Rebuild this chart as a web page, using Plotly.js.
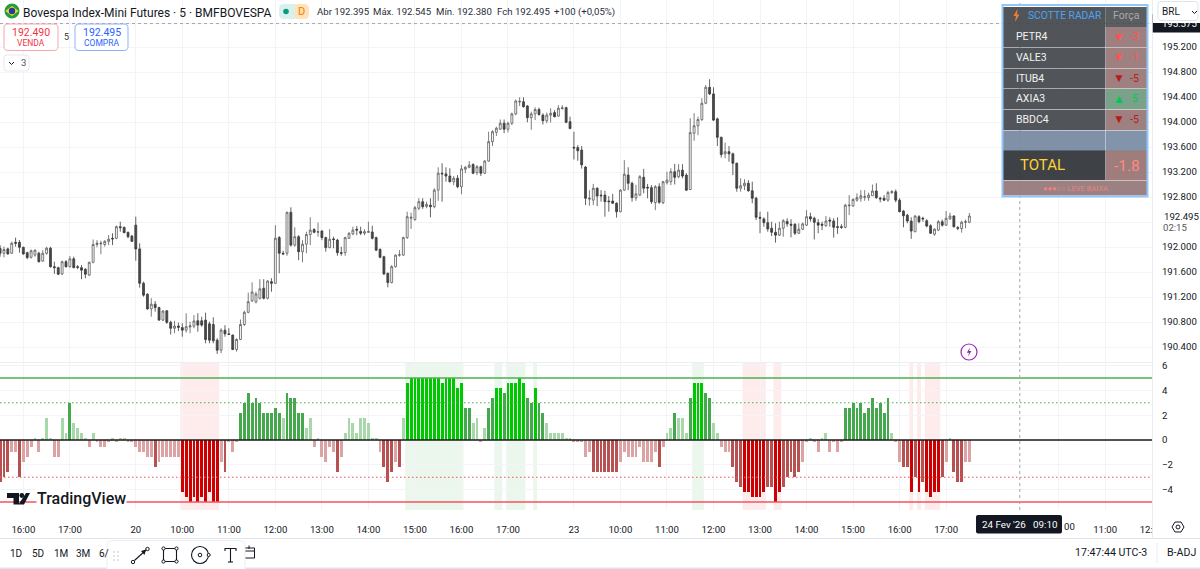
<!DOCTYPE html>
<html><head><meta charset="utf-8">
<script src="https://cdn.plot.ly/plotly-3.0.1.min.js"></script>
<style>html,body{margin:0;padding:0;background:#fff;overflow:hidden}#c{width:1200px;height:569px}</style>
</head><body><div id="c"></div>
<script>
const opens=[191.98,191.90,191.97,191.90,192.075,192.075,191.995,191.91,191.835,191.87,
191.90,191.775,191.90,191.98,191.685,191.67,191.57,191.765,191.685,191.81,
191.685,191.67,191.645,191.55,191.755,192.04,192.05,192.04,192.09,192.14,
192.14,192.325,192.315,192.235,192.175,192.35,191.97,191.42,191.245,191.01,
191.085,191.03,190.83,190.98,190.795,190.70,190.735,190.71,190.67,190.72,
190.735,190.82,190.82,190.83,190.77,190.76,190.51,190.35,190.67,190.61,
190.59,190.36,190.52,190.76,190.955,191.14,191.12,191.18,191.34,191.18,
191.445,191.42,192.15,191.90,191.90,192.555,192.03,192.165,191.925,192.045,
192.20,192.28,192.235,192.255,192.15,191.99,192.13,192.11,191.91,191.91,
192.14,192.21,192.285,192.25,192.22,192.235,192.24,192.15,191.96,191.845,
191.58,191.43,191.685,191.87,191.87,192.15,192.46,192.44,192.62,192.725,
192.65,192.67,192.645,192.91,193.18,193.17,193.135,193.045,193.10,192.965,
193.245,193.275,193.32,193.19,193.285,193.18,193.375,193.685,193.835,193.885,
193.98,193.885,193.98,194.13,194.32,194.325,194.255,194.07,194.13,194.20,
194.11,194.02,194.11,194.15,194.095,194.215,194.23,194.005,193.595,193.59,
193.55,193.28,192.765,192.75,192.94,192.83,192.83,192.735,192.735,192.70,
192.565,192.91,193.15,193.02,192.785,192.83,193.115,192.955,192.95,192.71,
192.965,192.71,193.03,193.045,193.205,193.125,193.23,193.15,192.92,193.82,
193.94,194.04,194.30,194.555,194.45,194.05,193.755,193.49,193.525,193.49,
193.34,192.94,192.98,193.02,192.90,192.78,192.475,192.45,192.39,192.30,
192.235,192.19,192.30,192.41,192.365,192.365,192.22,192.285,192.35,192.485,
192.46,192.39,192.365,192.34,192.43,192.415,192.325,192.325,192.315,192.66,
192.655,192.75,192.78,192.795,192.79,192.82,192.895,192.78,192.78,192.75,
192.87,192.885,192.75,192.575,192.51,192.415,192.245,192.485,192.46,192.42,
192.34,192.205,192.27,192.405,192.35,192.45,192.495,192.31,192.295,192.395,
192.395];
const highs=[192.03,192.005,191.99,192.085,192.15,192.11,192.005,191.925,191.96,191.96,
191.925,191.95,192.005,192.005,191.765,191.685,191.78,191.79,191.855,191.845,
191.71,191.71,191.66,191.765,192.12,192.11,192.10,192.11,192.19,192.22,
192.345,192.405,192.325,192.245,192.19,192.485,192.06,191.445,191.26,191.18,
191.135,191.045,190.99,190.99,190.82,190.82,190.79,190.78,190.94,190.805,
190.91,190.94,190.885,190.95,190.805,190.875,190.54,190.70,190.75,190.70,
190.60,190.54,190.84,190.98,191.27,191.435,191.285,191.485,191.485,191.47,
191.50,192.35,192.175,191.94,192.565,192.635,192.315,192.19,192.11,192.245,
192.475,192.30,192.39,192.27,192.165,192.285,192.165,192.13,192.005,192.165,
192.235,192.325,192.335,192.325,192.285,192.405,192.34,192.165,191.98,191.86,
191.59,191.71,191.88,191.95,192.165,192.565,192.55,192.655,192.78,192.78,
192.725,192.78,192.94,193.275,193.34,193.275,193.26,193.135,193.15,193.31,
193.295,193.375,193.34,193.31,193.30,193.39,193.845,193.87,193.925,194.04,
194.04,194.005,194.15,194.36,194.395,194.395,194.27,194.165,194.235,194.23,
194.14,194.15,194.22,194.19,194.27,194.27,194.245,194.085,193.845,193.63,
193.615,193.295,192.91,193.01,192.955,192.91,192.90,192.815,192.85,192.715,
192.925,193.39,193.275,193.045,192.995,193.15,193.25,193.01,192.99,192.99,
193.02,193.055,193.205,193.26,193.33,193.325,193.325,193.18,194.06,194.14,
194.085,194.38,194.59,194.685,194.555,194.07,193.765,193.67,193.615,193.51,
193.35,193.10,193.085,193.07,193.045,192.805,192.565,192.475,192.565,192.405,
192.38,192.405,192.445,192.46,192.445,192.38,192.38,192.39,192.59,192.55,
192.485,192.445,192.405,192.495,192.475,192.46,192.475,192.365,192.69,192.83,
192.78,192.86,192.91,192.91,192.87,193.00,193.02,192.805,192.83,192.90,
192.91,192.92,192.78,192.59,192.53,192.475,192.51,192.51,192.485,192.445,
192.365,192.30,192.43,192.44,192.575,192.55,192.51,192.335,192.42,192.44,
192.545];
const lows=[191.845,191.835,191.875,191.89,192.005,191.91,191.875,191.805,191.815,191.845,
191.75,191.765,191.875,191.67,191.57,191.55,191.55,191.67,191.67,191.66,
191.645,191.485,191.50,191.535,191.74,191.995,191.885,192.005,192.03,192.03,
192.125,192.245,192.22,192.14,192.085,191.78,191.35,191.205,190.995,190.885,
190.965,190.82,190.815,190.77,190.60,190.62,190.655,190.565,190.63,190.62,
190.70,190.645,190.725,190.46,190.46,190.46,190.29,190.30,190.565,190.595,
190.35,190.325,190.51,190.735,190.94,191.12,191.10,191.16,191.16,191.16,
191.285,191.41,191.58,191.87,191.86,192.005,192.005,191.79,191.755,191.90,
192.03,192.22,192.165,192.11,191.925,191.98,191.98,191.86,191.86,191.86,
192.13,192.19,192.19,192.19,192.19,192.23,192.12,191.935,191.82,191.55,
191.355,191.42,191.67,191.845,191.86,192.13,192.29,192.42,192.59,192.61,
192.62,192.475,192.62,192.74,192.725,193.045,193.03,192.99,192.94,192.845,
193.18,193.26,193.165,193.15,193.135,193.17,193.365,193.615,193.775,193.875,
193.82,193.835,193.95,194.11,194.255,194.23,193.995,193.875,194.03,194.10,
193.96,193.98,193.99,194.075,194.085,194.20,193.98,193.885,193.40,193.38,
193.255,192.67,192.66,192.67,192.655,192.725,192.485,192.565,192.69,192.47,
192.555,192.90,192.91,192.725,192.74,192.815,192.86,192.78,192.69,192.59,
192.69,192.685,193.00,192.99,193.00,193.10,193.10,192.895,192.91,193.70,
193.79,194.015,194.285,194.43,194.015,193.615,193.43,193.42,193.365,193.15,
192.885,192.885,192.91,192.885,192.70,192.43,192.22,192.325,192.245,192.175,
192.07,192.175,192.165,192.325,192.155,192.19,192.21,192.27,192.335,192.405,
192.12,192.22,192.27,192.325,192.325,192.15,192.21,192.29,192.30,192.51,
192.645,192.725,192.725,192.74,192.74,192.82,192.77,192.715,192.735,192.725,
192.85,192.715,192.555,192.315,192.38,192.13,192.235,192.38,192.405,192.315,
192.21,192.18,192.255,192.325,192.34,192.43,192.31,192.27,192.23,192.30,
192.38];
const closes=[191.90,191.96,191.89,192.06,192.06,191.995,191.89,191.83,191.94,191.95,
191.765,191.90,191.98,191.685,191.67,191.565,191.765,191.685,191.81,191.67,
191.675,191.63,191.565,191.755,192.04,192.06,192.06,192.09,192.125,192.13,
192.325,192.31,192.23,192.165,192.09,191.97,191.42,191.23,191.01,191.085,
191.03,190.83,190.975,190.795,190.70,190.735,190.715,190.67,190.725,190.74,
190.815,190.75,190.75,190.52,190.51,190.50,190.35,190.67,190.61,190.60,
190.36,190.52,190.76,190.955,191.125,191.28,191.25,191.33,191.18,191.455,
191.42,192.14,191.90,191.89,192.555,192.03,192.165,191.925,192.045,192.20,
192.27,192.235,192.245,192.15,191.99,192.125,192.12,191.91,191.90,192.15,
192.22,192.27,192.27,192.22,192.245,192.245,192.14,191.95,191.835,191.57,
191.43,191.685,191.87,191.875,192.15,192.485,192.475,192.63,192.725,192.645,
192.68,192.645,192.91,193.18,193.17,193.135,193.045,193.10,192.965,193.25,
193.275,193.31,193.18,193.285,193.18,193.375,193.685,193.845,193.90,193.98,
193.885,193.98,194.13,194.335,194.33,194.245,194.07,194.13,194.20,194.12,
194.02,194.11,194.14,194.085,194.22,194.225,193.995,193.895,193.585,193.54,
193.315,192.78,192.78,192.94,192.815,192.82,192.725,192.725,192.70,192.565,
192.91,193.165,193.02,192.79,192.85,193.125,192.94,192.945,192.725,192.965,
192.715,193.045,193.07,193.205,193.115,193.23,193.135,192.91,193.83,193.94,
194.04,194.30,194.555,194.45,194.03,193.755,193.48,193.525,193.49,193.34,
192.94,192.98,193.02,192.90,192.78,192.475,192.46,192.39,192.29,192.235,
192.19,192.30,192.42,192.37,192.35,192.22,192.285,192.37,192.485,192.45,
192.395,192.35,192.35,192.415,192.415,192.315,192.315,192.315,192.67,192.67,
192.76,192.79,192.82,192.805,192.83,192.895,192.79,192.77,192.75,192.87,
192.885,192.75,192.565,192.50,192.415,192.255,192.495,192.405,192.45,192.335,
192.22,192.285,192.405,192.35,192.46,192.495,192.325,192.30,192.395,192.405,
192.495];
const signal=[-3.4,-3,-2.6,-1,-1,-3,-1.8,-1.4,-0.6,0.2,
-1,0.2,1.8,0.2,-1.4,-1.4,1.8,0.6,3,1.4,
1,0.6,0.2,-0.6,0.6,-0.2,-0.6,-0.6,-0.2,0.2,
-0.2,0.2,0.2,-0.2,-0.2,-0.6,-1,-1,-1.4,-1.4,
-2.2,-1.8,-1.4,-1.4,-1.4,-1.4,-1.4,-4.2,-4.6,-5,
-4.6,-5,-4.6,-5,-4.2,-5,-5,-1.8,-2.6,-0.2,
-1,-0.2,2.2,3,3.8,3,3.4,3,2.2,2.2,
2.2,2.6,2.2,1.8,3.8,3.4,3.4,2.2,2.2,1,
1.8,-0.6,0.2,-1.4,-1.8,-0.6,-1,-2.6,-1.4,0.6,
1.8,1.4,0.6,1.8,1.8,1.4,0.2,0.2,-1,-2.2,
-3.4,-2.6,-1.8,-2.2,1.8,4.6,5,5,5,5,
5,5,5,5,4.6,5,5,5,4.2,4.6,
2.6,2.6,1.4,1.8,-0.2,1,2.6,3.4,4.2,4.2,
3.8,4.6,4.6,4.6,5,4.6,3.4,3,4.2,3,
2.2,1.4,0.6,0.6,0.6,0.6,0.2,0.2,-0.2,-0.2,
-0.2,-1.4,-1,-2.6,-2.6,-2.6,-2.6,-2.6,-2.6,-2.6,
-1.8,-1,-1.4,-1.4,-1.4,-0.6,-1.8,-1.8,-1.8,-1,
-2.2,-0.6,0.6,1,2.2,1.8,1.8,0.6,3.4,4.6,
4.6,4.6,3.8,3.4,1.4,0.6,-0.6,-1,-1,-2.2,
-3.4,-3.8,-4.2,-4.2,-4.6,-4.6,-4.6,-4.2,-3.8,-3.8,
-5,-4.2,-3.8,-3,-2.6,-3,-2.6,-1.8,-0.2,0.2,
-0.2,-1,0.2,0.6,-1,-0.2,-1,-0.2,2.6,2.6,
3,2.6,3,2.2,2.6,3.4,2.6,3,2.2,3.4,
0.6,-0.2,-1.8,-2.2,-2.2,-4.2,-3,-4.2,-3.4,-4.2,
-4.6,-4.2,-4.2,-3,-1.8,0.2,-2.6,-3.4,-3.4,-1.8,
-1.8];
const timeTickPos=[6,18,35,47,59,71,83,95,107,119,131,148,160,172,184,196,208,220,232,244,273,285,297];
const timeTickText=['16:00','17:00','20','10:00','11:00','12:00','13:00','14:00','15:00','16:00','17:00','23','10:00','11:00','12:00','13:00','14:00','15:00','16:00','17:00','','11:00','12:00'];
const priceTicks=[195.2,194.8,194.4,194.0,193.6,193.2,192.8,192.4,192.0,191.6,191.2,190.8,190.4];
const priceText=['195.200','194.800','194.400','194.000','193.600','193.200','192.800','','192.000','191.600','191.200','190.800','190.400'];
const sigTicks=[6,4,2,0,-2,-4];
const sigText=['6','4','2','0','−2','−4'];
const crossPrice=195.575, crossBar=263, lastPrice=192.495;
const radarNames=['PETR4','VALE3','ITUB4','AXIA3','BBDC4'];
const radarScores=[-3,-1,-5,5,-5];
const radarTotal='-1.8';

const F='Roboto, sans-serif', INK='#131722', GRID='#f2f4f8';
const px=x=>x/1200, py=y=>1-y/569;
const idx=signal.map((_,i)=>i);
const pt=(x,y)=>px(x).toFixed(5)+','+py(y).toFixed(5);
const base={xref:'paper',yref:'paper',layer:'above'};
const rect=(x0,y0,x1,y1,fill,color,w)=>({...base,type:'rect',x0:px(x0),x1:px(x1),y0:py(y0),y1:py(y1),fillcolor:fill||'rgba(0,0,0,0)',line:{color:color||'rgba(0,0,0,0)',width:w||0}});
const circ=(cx,cy,r,fill,color,w)=>({...base,type:'circle',x0:px(cx-r),x1:px(cx+r),y0:py(cy-r),y1:py(cy+r),fillcolor:fill||'rgba(0,0,0,0)',line:{color:color||'rgba(0,0,0,0)',width:w||0}});
const poly=(pts,fill,color,w,open)=>({...base,type:'path',path:'M'+pts.map(p=>pt(p[0],p[1])).join(' L')+(open?'':' Z'),fillcolor:fill||'rgba(0,0,0,0)',line:{color:color||'rgba(0,0,0,0)',width:w||0}});
const rrect=(x0,y0,x1,y1,r,fill,color,w)=>({...base,type:'path',path:'M'+pt(x0+r,y0)+' L'+pt(x1-r,y0)+' Q'+pt(x1,y0)+' '+pt(x1,y0+r)+' L'+pt(x1,y1-r)+' Q'+pt(x1,y1)+' '+pt(x1-r,y1)+' L'+pt(x0+r,y1)+' Q'+pt(x0,y1)+' '+pt(x0,y1-r)+' L'+pt(x0,y0+r)+' Q'+pt(x0,y0)+' '+pt(x0+r,y0)+' Z',fillcolor:fill||'rgba(0,0,0,0)',line:{color:color||'rgba(0,0,0,0)',width:w||0}});
const T=(text,x,y,size,color,anchor,extra)=>({xref:'paper',yref:'paper',x:px(x),y:py(y),text,showarrow:false,xanchor:anchor||'left',yanchor:'middle',borderpad:0,font:{family:F,size,color},...(extra||{})});

const barColor=v=>{const a=Math.abs(v);if(v>0)return a>=4?'#00c800':a>=2?'#46a84c':'#a6d8a9';return a>=4?'#cc0000':a>=2?'#b85252':'#dba3a3';};

const shapes=[];
// shaded bands wherever the signal is at full strength
let s=0;
while(s<signal.length){
  if(Math.abs(signal[s])>=4){
    let e=s;const up=signal[s]>0;
    while(e+1<signal.length&&Math.abs(signal[e+1])>=4&&(signal[e+1]>0)===up)e++;
    shapes.push({type:'rect',xref:'x2',yref:'paper',layer:'below',x0:s-.5,x1:e+.5,y0:py(510),y1:py(363),fillcolor:up?'rgba(76,175,80,.11)':'rgba(242,54,69,.10)',line:{width:0}});
    s=e+1;
  } else s++;
}
// crosshair price tag sits beneath the axis labels
shapes.push({...rect(1152,14,1200,32.5,'#131722'),layer:'below'});
// level lines
const level=(v,c,w,d)=>({type:'line',xref:'paper',yref:'y2',layer:'above',x0:0,x1:.96,y0:v,y1:v,line:{color:c,width:w,dash:d||'solid'}});
shapes.push(level(5,'#4caf50',1.6),level(3,'#4caf50',1.1,'1.5px,2.5px'),level(-3,'#f7525f',1.1,'1.5px,2.5px'),level(-5,'#f7525f',1.6),level(0,'#1a1a1a',1.6));
// pane frame
shapes.push(rect(0,362,1152,362.8,'#e6e8ee'));
shapes.push(rect(1152,0,1152.8,538,'#e6e8ee'));
// crosshair
shapes.push({type:'line',xref:'x',yref:'paper',layer:'above',x0:crossBar,x1:crossBar,y0:py(510),y1:1,line:{color:'#a3a6af',width:1,dash:'3px,3px'}});
shapes.push({type:'line',xref:'paper',yref:'y',layer:'above',x0:0,x1:.96,y0:crossPrice,y1:crossPrice,line:{color:'#a3a6af',width:1,dash:'3px,3px'}});
// right-bottom cover and footer
shapes.push(rect(1153,511,1200,538,'#fff'));
shapes.push(rect(0,538,1200,539,'#e0e3eb'));
shapes.push(rect(0,567.5,1200,569,'#e0e3eb'));
shapes.push(rect(1156.7,543,1157.4,563,'#e0e3eb'));
// settings hexagon
shapes.push(poly([[1172,527],[1175,522],[1181,522],[1184,527],[1181,532],[1175,532]],null,'#131722',1));
shapes.push(circ(1178,527,2,null,'#131722',1));
// crosshair time label
shapes.push(rrect(976,515,1062,533.5,2,'#131722'));
// BRL button
shapes.push(rect(1153,0,1200,23,'#fff'));
shapes.push(rrect(1158,1.5,1198,20.5,3,'#fff','#e0e3eb',1));
shapes.push(poly([[1192,11],[1194.5,13.5],[1197,11]],null,'#131722',1,true));
// header flag + status pill
shapes.push(circ(12,11,7.5,'#1f9e45'));
shapes.push(poly([[5.5,11],[12,6],[18.5,11],[12,16]],'#ffd21f'));
shapes.push(circ(12,11,3.2,'#213f9a'));
shapes.push(rrect(279,4,295,19,5,'#d8f1ec'));
shapes.push(rrect(293,4,309,19,5,'#ffe2b8'));
shapes.push(rect(291,4,295,19,'#d8f1ec'));
shapes.push(circ(286,11.5,2.8,'#089981'));
// buy / sell buttons
shapes.push(rrect(4,24,58,50.5,4,'#fff','#f9a5ad',1));
shapes.push(rrect(75,24,128,50.5,4,'#fff','#8fb0fb',1));
shapes.push(rrect(4,55,29,71,3,'#fff','#e6e8ee',1));
shapes.push(poly([[9,62],[11.5,64.5],[14,62]],null,'#131722',1,true));
// purple alert badge
shapes.push(circ(969,352,8,'#fff','#9c27b0',1.2));
shapes.push(poly([[970,347.5],[966.8,352.8],[969,352.8],[968,356.5],[971.5,351],[969.2,351]],'#9c27b0'));
// TradingView mark
shapes.push(poly([[7,493],[19,493],[19,504.5],[13.5,504.5],[13.5,498],[7,498]],'#131722'));
shapes.push(circ(21.8,495.5,2.4,'#131722'));
shapes.push(poly([[26,493],[30,493],[24,504.5],[18.5,504.5]],'#131722'));
// radar panel
const L=1003,M=1105.5,R=1147,rowH=20.7,top0=27;
const cL='rgba(68,72,76,.93)', cRed='rgba(152,118,118,.93)', cGreen='rgba(112,154,128,.93)';
shapes.push(rect(L,7,M,27,cL));
shapes.push(rect(M,7,R,27,'rgba(72,76,80,.9)'));
radarScores.forEach((v,i)=>{
  const y=top0+i*rowH;
  shapes.push(rect(L,y,M,y+rowH-.5,cL));
  shapes.push(rect(M+.5,y,R,y+rowH-.5,v>0?cGreen:cRed));
});
const yBlank=top0+5*rowH;
shapes.push(rect(L,yBlank,M,yBlank+20.7,'rgba(118,137,160,.93)'));
shapes.push(rect(M+.5,yBlank,R,yBlank+20.7,'rgba(120,140,162,.93)'));
shapes.push(rect(L,150.5,M,180,'rgba(52,55,60,.95)'));
shapes.push(rect(M+.5,150.5,R,180,'rgba(155,118,118,.95)'));
shapes.push(rect(L,180.5,R,195.5,'rgba(150,122,122,.95)'));
shapes.push(rect(1002.5,5,1147.5,196.5,null,'#93c5f8',2));
shapes.push(poly([[1017.5,9],[1013.5,16],[1016,16],[1015,22],[1019.5,14.5],[1017,14.5]],'#f57c2a'));
// floating drawing toolbar
shapes.push(rrect(107,540.5,245,574,6,'#fff','#eceef2',1));
[552,556,560].forEach(y=>{[114,118].forEach(x=>shapes.push(circ(x,y,.7,'#b2b5be')));});
const I='#131722';
shapes.push(poly([[134.5,560.5],[146,550]],null,I,1.1,true));
shapes.push(circ(133,562,1.7,'#fff',I,1));shapes.push(circ(147.5,549,1.7,'#fff',I,1));
shapes.push(poly([[141,551],[146,549.6],[144.5,555]],I));
shapes.push(rect(163.5,548.5,176.5,561.5,null,I,1.1));
[[163.5,548.5],[176.5,548.5],[163.5,561.5],[176.5,561.5]].forEach(p=>shapes.push(circ(p[0],p[1],1.6,'#fff',I,1)));
shapes.push(circ(200,555,8.5,null,I,1.1));shapes.push(circ(200,555,1.8,null,I,1));shapes.push(circ(208.7,555,1.5,'#fff',I,1));
shapes.push(poly([[225,551],[225,548.5],[236,548.5],[236,551]],null,I,1.1,true));
shapes.push(poly([[230.5,548.5],[230.5,562]],null,I,1.1,true));
shapes.push(poly([[228,562],[233,562]],null,I,1.1,true));
shapes.push(poly([[245.5,548],[254.5,548],[254.5,558],[245.5,558]],null,I,1,true));
shapes.push(poly([[245.5,551],[254.5,551]],null,I,1,true));
shapes.push(poly([[249,545.5],[249,549]],null,I,1,true));

const ann=[
 T('Bovespa Index-Mini Futures · 5 · BMFBOVESPA',22,12.5,12,INK),
 T('D',301,12,11,'#f57c00','center'),
 T('Abr 192.395',316,12,9.6,'#2a2e39'),
 T('Máx. 192.545',372,12,9.6,'#2a2e39'),
 T('Mín. 192.380',435,12,9.6,'#2a2e39'),
 T('Fch 192.495',496,12,9.6,'#2a2e39'),
 T('+100 (+0,05%)',553,12,9.6,'#2a2e39'),
 T('192.490',31,32,10.5,'#f23645','center'),
 T('VENDA',31,43,8.5,'#f23645','center'),
 T('5',66.5,37,9,'#333','center'),
 T('192.495',101.5,32,10.5,'#2962ff','center'),
 T('COMPRA',101.5,43,8.5,'#2962ff','center'),
 T('3',20,63,9.5,'#555'),
 {xref:'paper',yref:'y',x:1162/1200,y:lastPrice,text:'192.495',showarrow:false,xanchor:'left',yanchor:'middle',font:{family:F,size:9.6,color:INK}},
 T('02:15',1162,227,9.6,'#555'),
 T('BRL',1160.5,11.5,10,INK),
 T("24 Fev '26   09:10",1019,524.5,9.8,'#fff','center'),
 T('00',1063,526,9.6,INK),
 T('TradingView',36,498,16,INK,'left',{bgcolor:'#fff',font:{family:F,size:16,color:INK,weight:500}}),
 T('1D',8.5,553,10,INK),T('5D',30.5,553,10,INK),T('1M',52.5,553,10,INK),T('3M',75,553,10,INK),T('6/',98,553,10,INK),
 T('17:47:44 UTC-3',1074,552.5,10.6,INK),
 T('B-ADJ',1166,552.5,10.6,INK),
 T('SCOTTE RADAR',1026.5,15.5,10.3,'#4aa3f5'),
 T('Força',1112,15.5,10.5,'#a9a9a9'),
 T('TOTAL',1019,165,15,'#ffd42e'),
 T(radarTotal,1126.5,165.5,15.5,'#ff8a80','center'),
 T('●●●○○ LEVE BAIXA',1075,188,7.5,'#e8837f','center'),
];
radarNames.forEach((n,i)=>{
  const y=top0+i*rowH+9.7, v=radarScores[i];
  const c=v>0?'#00c853':v<=-5?'#b71c1c':'#ff5252';
  ann.push(T(n,1014.5,y,10.5,'#f2f2f2'));
  ann.push(T(v>0?'▲':'▼',1118.5,y,12,c,'center'));
  ann.push(T(String(v),1134.5,y,10.5,c,'center'));
});

const traces=[
 {type:'candlestick',x:idx,open:opens,high:highs,low:lows,close:closes,xaxis:'x',yaxis:'y',width:.62,whiskerwidth:0,
  increasing:{line:{color:'#5a5a5a',width:.8},fillcolor:'#ffffff'},
  decreasing:{line:{color:'#3a3a3a',width:.8},fillcolor:'#4a4a4a'},hoverinfo:'skip',showlegend:false},
 {type:'bar',x:idx,y:signal,xaxis:'x2',yaxis:'y2',width:.74,marker:{color:signal.map(barColor),line:{width:0}},hoverinfo:'skip',showlegend:false}
];
const xr=[-0.02,297.1];
const layout={
 width:1200,height:569,margin:{l:0,r:0,t:0,b:0,pad:0},paper_bgcolor:'#fff',plot_bgcolor:'#fff',showlegend:false,bargap:0,
 font:{family:F,color:INK,size:10},
 xaxis:{domain:[0,.96],range:xr,anchor:'y',matches:'x2',tickmode:'array',tickvals:timeTickPos,ticktext:timeTickText,showticklabels:false,ticks:'',showgrid:true,gridcolor:GRID,gridwidth:1,zeroline:false,showline:false,rangeslider:{visible:false},fixedrange:true},
 yaxis:{domain:[py(362),1],range:[195.2-(362-47)/62.5,195.2+47/62.5],side:'right',anchor:'x',tickmode:'array',
  tickvals:priceTicks.concat([crossPrice]),ticktext:priceText.concat(['<span style="color:#ffffff">195.575</span>']),
  ticks:'outside',ticklen:7,tickcolor:'rgba(0,0,0,0)',showgrid:true,gridcolor:GRID,zeroline:false,showline:false,fixedrange:true,tickfont:{family:F,size:9.6,color:INK},automargin:false},
 xaxis2:{domain:[0,.96],range:xr,anchor:'y2',tickmode:'array',tickvals:timeTickPos,ticktext:timeTickText,tickangle:0,ticks:'outside',ticklen:10,tickcolor:'rgba(0,0,0,0)',showgrid:true,gridcolor:GRID,zeroline:false,showline:false,fixedrange:true,tickfont:{family:F,size:9.6,color:INK},automargin:false},
 yaxis2:{domain:[py(510),py(363)],range:[-70/12.4,77/12.4],side:'right',anchor:'x2',tickmode:'array',tickvals:sigTicks,ticktext:sigText,ticks:'outside',ticklen:7,tickcolor:'rgba(0,0,0,0)',showgrid:true,gridcolor:GRID,zeroline:false,showline:false,fixedrange:true,tickfont:{family:F,size:9.6,color:INK},automargin:false},
 shapes,annotations:ann
};
Plotly.newPlot('c',traces,layout,{displayModeBar:false,staticPlot:true,responsive:false});
</script></body></html>
